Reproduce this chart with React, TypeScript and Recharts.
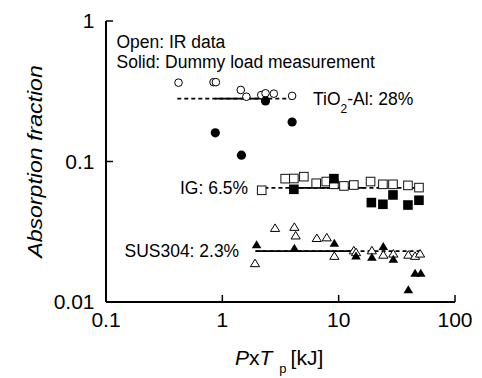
import { ReferenceLine, Scatter, ScatterChart, XAxis, YAxis } from 'recharts';

const FONT = "'Liberation Sans', Arial, sans-serif";

const xTicks = [0.1, 1, 10, 100];
const yTicks = [0.01, 0.1, 1];
const frameXTicks = [1, 10];
const frameYTicks = [0.1];

// TiO2-Al  [PxTp (kJ), absorption fraction]
const tioIR = [
  [0.42, 0.364], [0.84, 0.367], [0.88, 0.367], [1.44, 0.323], [1.61, 0.289],
  [2.16, 0.297], [2.35, 0.306], [2.77, 0.304], [3.98, 0.293],
];
const tioDummy = [[0.87, 0.16], [1.46, 0.111], [2.35, 0.27], [3.98, 0.191]];
const tioFit = 0.28;
const tioDashed = [0.41, 4.0];
const tioSolid = [0.86, 2.3];

// IG
const igIR = [
  [2.18, 0.0624], [3.47, 0.0755], [4.12, 0.0757], [5.02, 0.078], [6.41, 0.07],
  [7.82, 0.072], [9.1, 0.0688], [11.1, 0.067], [13.5, 0.068], [18.8, 0.072],
  [24.0, 0.0688], [29.3, 0.0688], [39.4, 0.0676], [49.0, 0.0652],
];
const igDummy = [
  [4.12, 0.0634], [9.1, 0.0755], [19.1, 0.051], [24.0, 0.0496],
  [29.3, 0.0578], [39.4, 0.049], [49.0, 0.053],
];
const igFit = 0.065;
const igDashed = [2.3, 49];
const igSolid = [4.1, 16.8];

// SUS304
const susIR = [
  [1.91, 0.0188], [2.84, 0.0335], [4.16, 0.0341], [4.27, 0.0296], [6.49, 0.0284],
  [7.9, 0.0287], [9.18, 0.0212], [13.5, 0.0232], [14.1, 0.0225], [19.3, 0.0232],
  [24.2, 0.0216], [29.5, 0.022], [39.7, 0.0216], [45.4, 0.0212], [50.1, 0.022],
];
const susDummy = [
  [1.97, 0.0255], [4.16, 0.0241], [9.18, 0.0262], [14.1, 0.0212], [19.3, 0.0208],
  [24.2, 0.0248], [29.5, 0.0201], [39.7, 0.0122], [45.4, 0.016], [50.8, 0.016],
];
const susFit = 0.023;
const susDashed = [1.93, 50];
const susSolid = [1.93, 12.8];

const toPoints = (rows: number[][]) => rows.map(([x, y]) => ({ x, y }));

const OpenCircle = (p: any) => (
  <circle cx={p.cx} cy={p.cy} r={3.8} fill='#fff' stroke='#000' strokeWidth={1} />
);
const FilledCircle = (p: any) => <circle cx={p.cx} cy={p.cy} r={4.6} fill='#000' />;
const OpenSquare = (p: any) => (
  <rect x={p.cx - 4.3} y={p.cy - 4.3} width={8.6} height={8.6} fill='#fff' stroke='#111' strokeWidth={1} />
);
const FilledSquare = (p: any) => (
  <rect x={p.cx - 4.8} y={p.cy - 4.8} width={9.6} height={9.6} fill='#000' />
);
const OpenTriangle = (p: any) => (
  <path
    d={`M${p.cx},${p.cy - 4.3}L${p.cx + 4.6},${p.cy + 3.2}L${p.cx - 4.6},${p.cy + 3.2}Z`}
    fill='#fff'
    stroke='#000'
    strokeWidth={1}
  />
);
const FilledTriangle = (p: any) => (
  <path
    d={`M${p.cx},${p.cy - 4.6}L${p.cx + 4.8},${p.cy + 3.4}L${p.cx - 4.8},${p.cy + 3.4}Z`}
    fill='#000'
  />
);

// dashed fit line over the IR range, solid part over the dummy-load range
const fitLines = (level: number, dashed: number[], solid: number[], key: string) => [
  <ReferenceLine
    key={key + 'd'}
    xAxisId='b'
    yAxisId='l'
    segment={[{ x: dashed[0], y: level }, { x: dashed[1], y: level }]}
    stroke='#000'
    strokeWidth={1.8}
    strokeDasharray='4 3'
  />,
  <ReferenceLine
    key={key + 's'}
    xAxisId='b'
    yAxisId='l'
    segment={[{ x: solid[0], y: level }, { x: solid[1], y: level }]}
    stroke='#000'
    strokeWidth={1.8}
  />,
];

const tickStyle = { fill: '#000', fontSize: 21, fontFamily: FONT };
const axisStroke = { stroke: '#000', strokeWidth: 2 };
const tickStroke = { stroke: '#000', strokeWidth: 1.5 };

export default function App() {
  return (
    <div style={{ position: 'absolute', left: 0, top: 0, width: 482, height: 378, background: '#fff' }}>
      <ScatterChart width={482} height={378} margin={{ top: 21, right: 27, bottom: 26, left: 0 }}>
        <XAxis
          xAxisId='b'
          dataKey='x'
          type='number'
          scale='log'
          domain={[0.1, 100]}
          ticks={xTicks}
          height={50}
          axisLine={axisStroke}
          tickLine={tickStroke}
          tickSize={-7}
          tickMargin={17}
          tick={tickStyle}
          interval={0}
        />
        <XAxis
          xAxisId='t'
          orientation='top'
          type='number'
          scale='log'
          domain={[0.1, 100]}
          ticks={frameXTicks}
          height={0}
          axisLine={axisStroke}
          tickLine={tickStroke}
          tickSize={-7}
          tickFormatter={() => ''}
        />
        <YAxis
          yAxisId='l'
          dataKey='y'
          type='number'
          scale='log'
          domain={[0.01, 1]}
          ticks={yTicks}
          width={106}
          axisLine={axisStroke}
          tickLine={tickStroke}
          tickSize={-7}
          tickMargin={18.5}
          tick={tickStyle}
          interval={0}
        />
        <YAxis
          yAxisId='r'
          orientation='right'
          type='number'
          scale='log'
          domain={[0.01, 1]}
          ticks={frameYTicks}
          width={0}
          axisLine={axisStroke}
          tickLine={tickStroke}
          tickSize={-7}
          tickFormatter={() => ''}
        />
        {fitLines(tioFit, tioDashed, tioSolid, 'tio')}
        {fitLines(igFit, igDashed, igSolid, 'ig')}
        {fitLines(susFit, susDashed, susSolid, 'sus')}
        <Scatter xAxisId='b' yAxisId='l' data={toPoints(tioIR)} shape={OpenCircle} isAnimationActive={false} />
        <Scatter xAxisId='b' yAxisId='l' data={toPoints(tioDummy)} shape={FilledCircle} isAnimationActive={false} />
        <Scatter xAxisId='b' yAxisId='l' data={toPoints(igIR)} shape={OpenSquare} isAnimationActive={false} />
        <Scatter xAxisId='b' yAxisId='l' data={toPoints(igDummy)} shape={FilledSquare} isAnimationActive={false} />
        <Scatter xAxisId='b' yAxisId='l' data={toPoints(susIR)} shape={OpenTriangle} isAnimationActive={false} />
        <Scatter xAxisId='b' yAxisId='l' data={toPoints(susDummy)} shape={FilledTriangle} isAnimationActive={false} />
      </ScatterChart>
      <svg
        width={482}
        height={378}
        style={{ position: 'absolute', left: 0, top: 0, pointerEvents: 'none' }}
        fontFamily={FONT}
        fill='#000'
      >
        <text transform='translate(116.5,48) scale(1,1.1)' fontSize={17.5}>Open: IR data</text>
        <text transform='translate(116.5,68) scale(1,1.1)' fontSize={17.5}>Solid: Dummy load measurement</text>
        <text transform='translate(313,105) scale(1,1.1)' fontSize={17.5}>
          TiO<tspan fontSize={12} dy={7}>2</tspan><tspan dy={-7}>-Al: 28%</tspan>
        </text>
        <text transform='translate(180,194) scale(1,1.1)' fontSize={17.5}>IG: 6.5%</text>
        <text transform='translate(124.5,257) scale(1,1.1)' fontSize={17.5}>SUS304: 2.3%</text>
        <text
          transform='translate(42,161.5) scale(1,1.1) rotate(-90)'
          fontSize={21}
          fontStyle='italic'
          textAnchor='middle'
        >
          Absorption fraction
        </text>
        <text x={235} y={365} fontSize={21}>
          <tspan fontStyle='italic'>P</tspan>x<tspan fontStyle='italic'>T</tspan>
          <tspan fontSize={13} dx={7} dy={8}>p</tspan>
          <tspan dx={4} dy={-8}>[kJ]</tspan>
        </text>
      </svg>
    </div>
  );
}
